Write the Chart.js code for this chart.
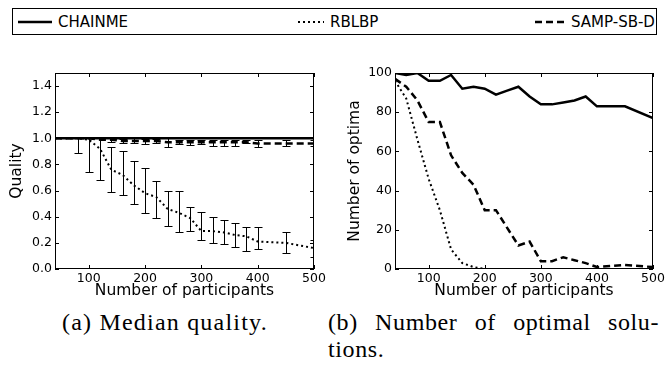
<!DOCTYPE html>
<html>
<head>
<meta charset="utf-8">
<script src="https://cdn.jsdelivr.net/npm/chart.js@4"></script>
<style>
	body { margin: 0; background: #fff; width: 669px; height: 366px; overflow: hidden; position: relative; font-family: 'DejaVu Sans', sans-serif; }
	#legend { position: absolute; left: 12px; top: 8px; width: 643px; height: 25px; border: 1px solid #000; }
	.item { position: absolute; top: 0; height: 25px; display: flex; align-items: center; font-size: 15px; }
	.item svg { margin-right: 6px; }
	.plot { position: absolute; top: 60px; }
	.caption { position: absolute; font-family: 'Liberation Serif', serif; font-size: 24px; letter-spacing: 1.2px; white-space: nowrap; }
	#capB { display: flex; justify-content: space-between; width: 331px; letter-spacing: 0.6px; }
</style>
</head>
<body>
<div id="legend">
	<div class="item" style="left:5px"><svg width="34" height="10"><line x1="0" y1="5" x2="34" y2="5" stroke="#000" stroke-width="2.5"/></svg>CHAINME</div>
	<div class="item" style="left:285px"><svg width="26" height="10"><line x1="0" y1="5" x2="26" y2="5" stroke="#000" stroke-width="2" stroke-dasharray="2 3"/></svg>RBLBP</div>
	<div class="item" style="left:522px"><svg width="30" height="10"><line x1="0" y1="5" x2="30" y2="5" stroke="#000" stroke-width="2.5" stroke-dasharray="7 4"/></svg>SAMP-SB-D</div>
</div>
<div class="plot" style="left:0"><canvas id="quality" width="330" height="240"></canvas></div>
<div class="plot" style="left:340px"><canvas id="optima" width="329" height="240"></canvas></div>
<div class="caption" style="left:62px; top:309px">(a) Median quality.</div>
<div class="caption" id="capB" style="left:328px; top:309px"><span>(b)</span><span>Number</span><span>of</span><span>optimal</span><span>solu-</span></div>
<div class="caption" style="left:328px; top:336px; letter-spacing:0.6px">tions.</div>
<script>
// x values shared by both panels
const participants = [40, 60, 80, 100, 120, 140, 160, 180, 200, 220, 240, 260, 280, 300, 320, 340, 360, 380, 400, 450, 500];

// (a) median quality
const chainmeQuality = [1, 1, 1, 1, 1, 1, 1, 1, 1, 1, 1, 1, 1, 1, 1, 1, 1, 1, 1, 1, 1];
const rblbpQuality = [1, 1, 1, 0.99, 0.92, 0.76, 0.72, 0.64, 0.58, 0.55, 0.46, 0.43, 0.39, 0.29, 0.29, 0.28, 0.26, 0.25, 0.21, 0.2, 0.16];
const sampQuality = [1, 1, 1, 1, 0.99, 0.99, 0.98, 0.98, 0.98, 0.98, 0.97, 0.97, 0.97, 0.97, 0.97, 0.97, 0.97, 0.97, 0.96, 0.96, 0.96];

// quartile error bars
const rblbpLow = [null, null, 0.89, 0.745, 0.68, 0.59, 0.57, 0.5, 0.43, 0.39, 0.33, 0.28, 0.29, 0.22, 0.2, 0.195, 0.17, 0.14, 0.155, 0.125, 0.095];
const rblbpHigh = [null, null, 1, 1, 1, 0.93, 0.9, 0.83, 0.77, 0.67, 0.6, 0.6, 0.475, 0.435, 0.4, 0.375, 0.35, 0.32, 0.32, 0.285, 0.22];
const sampLow = [null, null, null, null, null, 0.97, 0.965, 0.965, 0.96, 0.965, 0.935, 0.955, 0.95, 0.955, 0.945, 0.945, 0.945, 0.965, 0.93, 0.94, 0.94];
const sampHigh = [null, null, null, null, null, 1, 0.995, 1, 0.995, 0.995, 1, 0.99, 0.99, 0.99, 0.985, 0.985, 0.985, 0.99, 0.985, 0.985, 0.985];

// (b) number of optimal solutions
const chainmeOptima = [100, 99, 100, 96, 96, 99, 92, 93, 92, 89, 91, 93, 88, 84, 84, 85, 86, 88, 83, 83, 77];
const rblbpOptima = [96, 87, 66, 46, 30, 10, 3, 1, 0, 0, 0, 0, 0, 0, 0, 0, 0, 0, 0, 0, 0];
const sampOptima = [97, 93, 86, 75, 75, 58, 49, 43, 30, 30, 21, 12, 14, 4, 4, 6, 4.5, 3, 1, 2, 1];

Chart.defaults.font.family = 'DejaVu Sans';
Chart.defaults.color = '#000';

const toPoints = (ys) => participants.map((x, i) => ({ x, y: ys[i] }));

// matplotlib-like frame with inward ticks on all sides
const frameTicks = {
	id: 'frameTicks',
	afterDraw(chart) {
		const { ctx, chartArea: a, scales: { x, y } } = chart;
		const len = 4;
		ctx.save();
		ctx.strokeStyle = '#000';
		ctx.lineWidth = 1;
		ctx.strokeRect(a.left + 0.5, a.top + 0.5, a.right - a.left - 1, a.bottom - a.top - 1);
		ctx.beginPath();
		x.ticks.forEach((t) => {
			const px = Math.round(x.getPixelForValue(t.value)) + 0.5;
			ctx.moveTo(px, a.bottom);
			ctx.lineTo(px, a.bottom - len);
			ctx.moveTo(px, a.top);
			ctx.lineTo(px, a.top + len);
		});
		y.ticks.forEach((t) => {
			const py = Math.round(y.getPixelForValue(t.value)) + 0.5;
			ctx.moveTo(a.left, py);
			ctx.lineTo(a.left + len, py);
			ctx.moveTo(a.right, py);
			ctx.lineTo(a.right - len, py);
		});
		ctx.stroke();
		ctx.restore();
	},
};

// vertical error bars with caps
const errorBars = {
	id: 'errorBars',
	afterDatasetsDraw(chart, args, opts) {
		const sets = opts.sets || [];
		if (!sets.length) return;
		const { ctx, chartArea: a, scales: { x, y } } = chart;
		ctx.save();
		ctx.beginPath();
		ctx.rect(a.left, a.top, a.right - a.left, a.bottom - a.top);
		ctx.clip();
		ctx.strokeStyle = '#000';
		ctx.lineWidth = 1;
		sets.forEach((set) => {
			set.low.forEach((lo, i) => {
				const hi = set.high[i];
				if (lo == null || hi == null) return;
				const px = Math.round(x.getPixelForValue(participants[i])) + 0.5;
				const y1 = Math.round(y.getPixelForValue(lo)) + 0.5;
				const y2 = Math.round(y.getPixelForValue(hi)) + 0.5;
				ctx.beginPath();
				ctx.moveTo(px, y1);
				ctx.lineTo(px, y2);
				ctx.moveTo(px - 4, y1);
				ctx.lineTo(px + 4, y1);
				ctx.moveTo(px - 4, y2);
				ctx.lineTo(px + 4, y2);
				ctx.stroke();
			});
		});
		ctx.restore();
	},
};

function lineSets(chainme, rblbp, samp) {
	return [
		{ label: 'RBLBP', data: toPoints(rblbp), borderColor: '#000', borderWidth: 2, borderDash: [2, 3] },
		{ label: 'SAMP-SB-D', data: toPoints(samp), borderColor: '#000', borderWidth: 2.5, borderDash: [7, 4] },
		{ label: 'CHAINME', data: toPoints(chainme), borderColor: '#000', borderWidth: 2.5 },
	].map((d) => ({ ...d, pointRadius: 0, tension: 0, fill: false }));
}

function makeOptions(yMax, yStep, yTitle, yTitlePad, fmt, bars) {
	return {
		responsive: false,
		animation: false,
		events: [],
		layout: { padding: { left: 0, right: 16, top: 13, bottom: 0 } },
		plugins: {
			legend: { display: false },
			tooltip: { enabled: false },
			errorBars: { sets: bars },
		},
		scales: {
			x: {
				type: 'linear',
				min: 40,
				max: 500,
				grid: { display: false, drawTicks: false },
				border: { display: false },
				ticks: { stepSize: 100, includeBounds: false, maxRotation: 0, autoSkip: false, padding: 2, font: { size: 12.5 } },
				title: { display: true, text: 'Number of participants', font: { size: 15.5 }, padding: { top: 0, bottom: 0 } },
				afterFit: (s) => { s.height = 31; },
			},
			y: {
				min: 0,
				max: yMax,
				grid: { display: false, drawTicks: false },
				border: { display: false },
				ticks: { stepSize: yStep, includeBounds: false, padding: 3, font: { size: 12.5 }, callback: fmt },
				title: { display: true, text: yTitle, font: { size: 15.5 }, padding: { top: yTitlePad, bottom: 0 } },
				afterFit: (s) => { s.width = 55; },
			},
		},
	};
}

new Chart(document.getElementById('quality'), {
	type: 'line',
	data: { datasets: lineSets(chainmeQuality, rblbpQuality, sampQuality) },
	options: makeOptions(1.5, 0.2, 'Quality', 8, (v) => v.toFixed(1), [
		{ low: rblbpLow, high: rblbpHigh },
		{ low: sampLow, high: sampHigh },
	]),
	plugins: [errorBars, frameTicks],
});

new Chart(document.getElementById('optima'), {
	type: 'line',
	data: { datasets: lineSets(chainmeOptima, rblbpOptima, sampOptima) },
	options: makeOptions(100, 20, 'Number of optima', 6, (v) => v, []),
	plugins: [errorBars, frameTicks],
});
</script>
</body>
</html>
